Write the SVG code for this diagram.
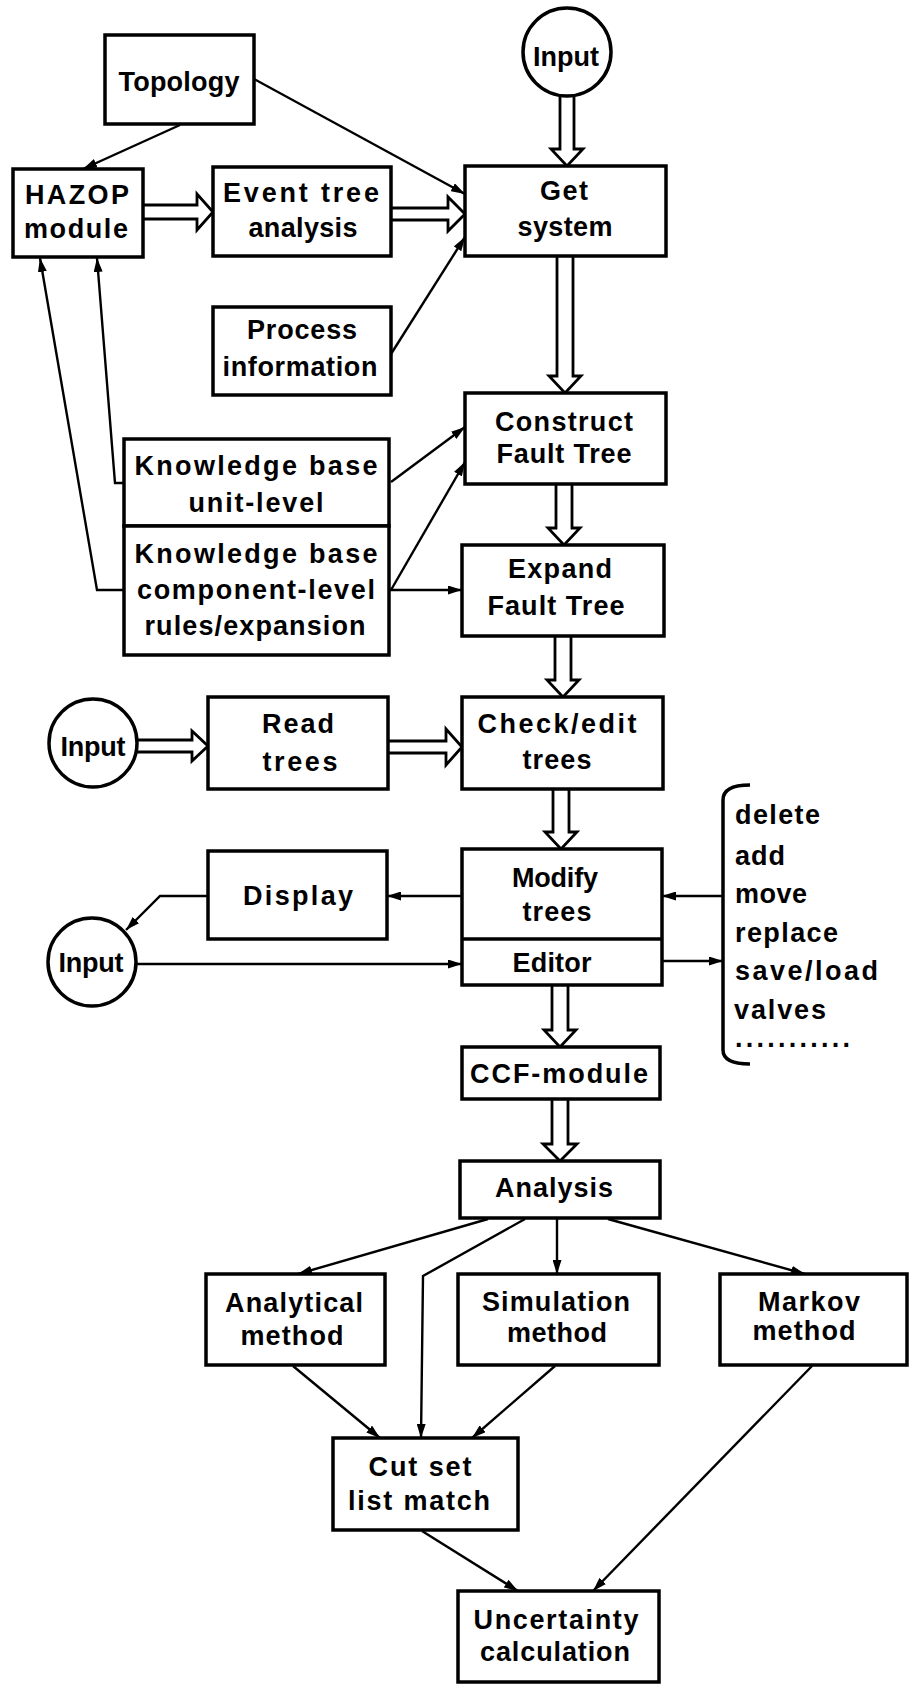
<svg xmlns="http://www.w3.org/2000/svg" width="910" height="1684" viewBox="0 0 910 1684">
<style>
.box{fill:#fff;stroke:#000;stroke-width:3.5}
.t{font-family:"Liberation Sans",Arial,sans-serif;font-size:27px;font-weight:bold;text-anchor:middle;fill:#000}
.l{font-family:"Liberation Sans",Arial,sans-serif;font-size:27px;font-weight:bold;text-anchor:start;fill:#000}
.ln{fill:none;stroke:#000;stroke-width:2.4}
.hol{fill:#fff;stroke:#000;stroke-width:2.8}
</style>
<defs>
<marker id="ah" viewBox="0 0 14 9" refX="14" refY="4.5" markerWidth="14" markerHeight="9" markerUnits="userSpaceOnUse" orient="auto"><path d="M0,0 L14,4.5 L0,9 z" fill="#000"/></marker>
</defs>
<rect width="910" height="1684" fill="#fff"/>

<g id="connectors">
<path class="ln" marker-end="url(#ah)" d="M254,79 L465,194"/>
<path class="ln" marker-end="url(#ah)" d="M180,125 L83,169"/>
<path class="ln" marker-end="url(#ah)" d="M391,354 L465,237"/>
<path class="ln" marker-end="url(#ah)" d="M391,482 L465,427"/>
<path class="ln" marker-end="url(#ah)" d="M391,590 L465,462"/>
<path class="ln" marker-end="url(#ah)" d="M389,590 L462,590"/>
<path class="ln" marker-end="url(#ah)" d="M124,590 L97,590 L40,258"/>
<path class="ln" marker-end="url(#ah)" d="M124,483 L115,483 L97,258"/>
<path class="ln" marker-end="url(#ah)" d="M462,896 L387,896"/>
<path class="ln" marker-end="url(#ah)" d="M208,896 L160,896 L126,930"/>
<path class="ln" marker-end="url(#ah)" d="M137,964 L462,964"/>
<path class="ln" marker-end="url(#ah)" d="M723,896 L662,896"/>
<path class="ln" marker-end="url(#ah)" d="M662,961 L723,961"/>
<path class="ln" marker-end="url(#ah)" d="M488,1219 L298,1274"/>
<path class="ln" marker-end="url(#ah)" d="M525,1219 L423,1276 L421,1438"/>
<path class="ln" marker-end="url(#ah)" d="M557,1218 L557,1274"/>
<path class="ln" marker-end="url(#ah)" d="M608,1219 L805,1274"/>
<path class="ln" marker-end="url(#ah)" d="M293,1366 L380,1438"/>
<path class="ln" marker-end="url(#ah)" d="M555,1366 L472,1438"/>
<path class="ln" marker-end="url(#ah)" d="M422,1531 L518,1591"/>
<path class="ln" marker-end="url(#ah)" d="M812,1366 L593,1591"/>
<path class="hol" d="M560,96 V149 H551 L567,166 L583,149 H574 V96"/>
<path class="hol" d="M557,256 V376 H549 L565,393 L581,376 H573 V256"/>
<path class="hol" d="M556,484 V528 H548 L564,545 L580,528 H572 V484"/>
<path class="hol" d="M555,636 V680 H547 L563,697 L579,680 H571 V636"/>
<path class="hol" d="M553,789 V832 H545 L561,849 L577,832 H569 V789"/>
<path class="hol" d="M552,985 V1030 H544 L560,1047 L576,1030 H568 V985"/>
<path class="hol" d="M552,1099 V1144 H543 L560,1161 L577,1144 H568 V1099"/>
<path class="hol" d="M143,205 H197 V194 L213,212 L197,230 V219 H143"/>
<path class="hol" d="M391,208 H448 V197 L465,214 L448,231 V220 H391"/>
<path class="hol" d="M137,740 H192 V731 L208,746 L192,761 V752 H137"/>
<path class="hol" d="M388,741 H446 V729 L462,747 L446,765 V753 H388"/>
</g>

<g id="topology"><rect class="box" x="105" y="35" width="149" height="89"/><text class="t" x="179" y="91" textLength="121">Topology</text></g>
<g id="input-top"><circle class="box" cx="567" cy="52" r="44"/><text class="t" x="566" y="66" textLength="66">Input</text></g>
<g id="hazop"><rect class="box" x="13" y="169" width="130" height="88"/><text class="t" x="77" y="204" textLength="104">HAZOP</text><text class="t" x="76" y="238" textLength="104">module</text></g>
<g id="event-tree"><rect class="box" x="213" y="167" width="178" height="89"/><text class="t" x="301" y="202" textLength="156">Event tree</text><text class="t" x="303" y="237" textLength="109">analysis</text></g>
<g id="get-system"><rect class="box" x="465" y="166" width="201" height="90"/><text class="t" x="564" y="200" textLength="48">Get</text><text class="t" x="565" y="236" textLength="95">system</text></g>
<g id="process-info"><rect class="box" x="213" y="307" width="178" height="88"/><text class="t" x="302" y="339" textLength="110">Process</text><text class="t" x="300" y="376" textLength="155">information</text></g>
<g id="kb-unit"><rect class="box" x="124" y="439" width="265" height="87"/><text class="t" x="256" y="475" textLength="243">Knowledge base</text><text class="t" x="256" y="512" textLength="135">unit-level</text></g>
<g id="kb-component"><rect class="box" x="124" y="526" width="265" height="129"/><text class="t" x="256" y="563" textLength="243">Knowledge base</text><text class="t" x="256" y="599" textLength="238">component-level</text><text class="t" x="255" y="635" textLength="221">rules/expansion</text></g>
<g id="construct"><rect class="box" x="465" y="393" width="201" height="91"/><text class="t" x="564" y="431" textLength="138">Construct</text><text class="t" x="564" y="463" textLength="135">Fault Tree</text></g>
<g id="expand"><rect class="box" x="462" y="545" width="202" height="91"/><text class="t" x="560" y="578" textLength="104">Expand</text><text class="t" x="556" y="615" textLength="137">Fault Tree</text></g>
<g id="input-read"><circle class="box" cx="93" cy="743" r="44"/><text class="t" x="93" y="756" textLength="65">Input</text></g>
<g id="read-trees"><rect class="box" x="208" y="697" width="180" height="92"/><text class="t" x="298" y="733" textLength="72">Read</text><text class="t" x="300" y="771" textLength="75">trees</text></g>
<g id="check-edit"><rect class="box" x="462" y="697" width="201" height="92"/><text class="t" x="557" y="733" textLength="159">Check/edit</text><text class="t" x="557" y="769" textLength="69">trees</text></g>
<g id="display"><rect class="box" x="208" y="851" width="179" height="88"/><text class="t" x="298" y="905" textLength="110">Display</text></g>
<g id="input-edit"><circle class="box" cx="92" cy="962" r="44"/><text class="t" x="91" y="972" textLength="65">Input</text></g>
<g id="modify"><rect class="box" x="462" y="849" width="200" height="136"/><line x1="462" y1="939" x2="662" y2="939" stroke="#000" stroke-width="3.5"/><text class="t" x="555" y="887" textLength="86">Modify</text><text class="t" x="557" y="921" textLength="69">trees</text><text class="t" x="552" y="972" textLength="79">Editor</text></g>
<g id="edit-ops"><path d="M750,785 Q723,785 723,800 L723,1050 Q723,1064 750,1064" fill="none" stroke="#000" stroke-width="3.5"/>
<text class="l" x="735" y="824" textLength="85">delete</text>
<text class="l" x="735" y="865" textLength="50">add</text>
<text class="l" x="735" y="903" textLength="72">move</text>
<text class="l" x="735" y="942" textLength="103">replace</text>
<text class="l" x="735" y="980" textLength="143">save/load</text>
<text class="l" x="734" y="1019" textLength="92">valves</text>
<text class="l" x="735" y="1047" textLength="115">...........</text></g>
<g id="ccf"><rect class="box" x="462" y="1047" width="198" height="52"/><text class="t" x="559" y="1083" textLength="178">CCF-module</text></g>
<g id="analysis"><rect class="box" x="460" y="1161" width="200" height="57"/><text class="t" x="554" y="1197" textLength="118">Analysis</text></g>
<g id="analytical"><rect class="box" x="206" y="1274" width="179" height="91"/><text class="t" x="294" y="1312" textLength="138">Analytical</text><text class="t" x="292" y="1345" textLength="103">method</text></g>
<g id="simulation"><rect class="box" x="458" y="1274" width="201" height="91"/><text class="t" x="556" y="1311" textLength="148">Simulation</text><text class="t" x="557" y="1342" textLength="100">method</text></g>
<g id="markov"><rect class="box" x="720" y="1274" width="187" height="91"/><text class="t" x="809" y="1311" textLength="102">Markov</text><text class="t" x="804" y="1340" textLength="103">method</text></g>
<g id="cutset"><rect class="box" x="333" y="1438" width="185" height="92"/><text class="t" x="420" y="1476" textLength="103">Cut set</text><text class="t" x="419" y="1510" textLength="142">list match</text></g>
<g id="uncertainty"><rect class="box" x="458" y="1591" width="201" height="91"/><text class="t" x="556" y="1629" textLength="165">Uncertainty</text><text class="t" x="555" y="1661" textLength="150">calculation</text></g>
</svg>
